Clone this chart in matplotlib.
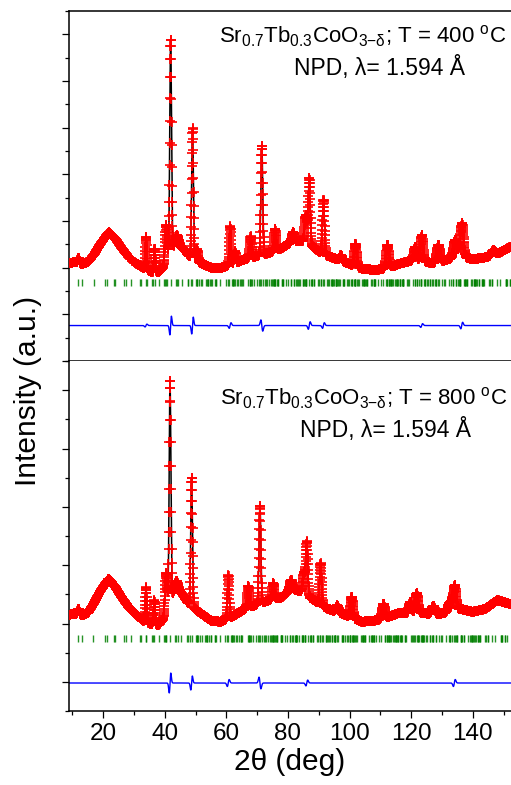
import numpy as np
import matplotlib
matplotlib.use("Agg")
import matplotlib.pyplot as plt
from matplotlib.ticker import MultipleLocator

plt.rcParams["font.family"] = ["Liberation Sans", "DejaVu Sans"]
plt.rcParams["mathtext.fontset"] = "custom"
plt.rcParams["mathtext.rm"] = "Liberation Sans"
plt.rcParams["mathtext.it"] = "Liberation Sans:italic"
plt.rcParams["mathtext.default"] = "regular"

WAVE = 1.594
TTH_MIN, TTH_MAX, STEP = 9.0, 152.4, 0.05

# background points (2theta, intensity), linear interpolation as in FullProf
BG_X = [8.9, 11, 13, 15, 17, 19, 21.8, 24, 26, 28, 30, 33, 36, 38, 40, 42, 44, 46, 48,
        51, 55, 58, 62, 66, 70, 74, 78, 81, 84, 87, 90, 93, 96, 100, 104, 108, 112,
        116, 120, 124, 128, 132, 136, 140, 144, 148, 152.4]
BG_400 = [2.10, 2.12, 2.08, 2.12, 2.28, 2.50, 2.76, 2.62, 2.42, 2.25, 2.12, 2.00, 1.90,
          1.90, 2.05, 2.35, 2.50, 2.40, 2.25, 2.12, 2.00, 1.99, 2.08, 2.18, 2.25, 2.32,
          2.42, 2.55, 2.58, 2.50, 2.35, 2.25, 2.18, 2.08, 1.98, 1.95, 1.98, 2.08, 2.15,
          2.12, 2.10, 2.18, 2.25, 2.18, 2.22, 2.30, 2.45]
BG_800 = [1.15, 1.17, 1.14, 1.18, 1.35, 1.55, 1.77, 1.62, 1.45, 1.30, 1.18, 1.05, 0.98,
          0.98, 1.10, 1.40, 1.60, 1.48, 1.32, 1.20, 1.05, 1.03, 1.12, 1.25, 1.33, 1.40,
          1.45, 1.60, 1.55, 1.45, 1.35, 1.25, 1.20, 1.12, 1.03, 1.05, 1.10, 1.18, 1.18,
          1.18, 1.15, 1.20, 1.25, 1.20, 1.25, 1.40, 1.33]

# Bragg peaks: position, height above background, gaussian width
PK_400_POS = [12.0, 33.9, 36.7, 40.4, 41.9, 43.9, 49.0, 50.5, 61.2, 62.8, 67.9, 71.5,
              75.8, 81.7, 85.8, 86.9, 91.5, 97.2, 101.9, 112.3, 121.3, 123.4, 128.8,
              134.3, 136.4, 146.7]
PK_400_H = [0.10, 0.69, 0.51, 0.80, 4.55, 0.20, 2.77, 0.25, 0.82, 0.25, 0.46, 2.33,
            0.46, 0.20, 0.60, 1.40, 1.15, 0.12, 0.47, 0.50, 0.30, 0.57, 0.38, 0.38,
            0.70, 0.10]
PK_400_W = [0.30, 0.25, 0.25, 0.35, 0.28, 0.60, 0.28, 0.30, 0.28, 0.30, 0.30, 0.30,
            0.32, 0.40, 0.40, 0.32, 0.33, 0.40, 0.40, 0.45, 0.45, 0.45, 0.50, 0.55,
            0.55, 0.60]

PK_800_POS = [12.0, 33.9, 36.6, 40.4, 41.7, 43.6, 48.7, 60.6, 67.1, 70.9, 75.2, 81.0,
              85.2, 86.1, 90.6, 96.0, 100.7, 111.0, 119.7, 121.8, 127.2, 132.5, 134.0]
PK_800_H = [0.10, 0.59, 0.42, 0.70, 3.80, 0.15, 2.20, 0.73, 0.37, 1.67, 0.28, 0.15,
            0.35, 0.90, 0.70, 0.11, 0.35, 0.25, 0.19, 0.34, 0.15, 0.15, 0.40]
PK_800_W = [0.30, 0.25, 0.25, 0.35, 0.28, 0.60, 0.28, 0.28, 0.30, 0.30, 0.32, 0.40,
            0.40, 0.32, 0.33, 0.40, 0.40, 0.45, 0.45, 0.45, 0.50, 0.55, 0.55]

# misfit features (obs - calc): position, amplitude, width
RES_400_POS = [33.9, 41.9, 49.0, 61.2, 71.5, 86.9, 91.5, 123.4, 136.4]
RES_400_AMP = [0.03, 0.20, 0.18, 0.06, -0.12, 0.08, 0.06, 0.04, 0.07]
RES_400_W = [0.3, 0.25, 0.25, 0.3, 0.3, 0.3, 0.3, 0.3, 0.3]
RES_800_POS = [41.7, 48.7, 60.6, 70.9, 86.1, 134.0]
RES_800_AMP = [0.17, 0.12, 0.06, -0.10, 0.05, 0.06]
RES_800_W = [0.25, 0.25, 0.3, 0.3, 0.3, 0.3]

# I4/mmm cell (a, c) in Angstrom for the reflection markers
CELL_400 = (7.69, 15.55)
CELL_800 = (7.72, 15.60)

TICK_Y = {"400": 1.69, "800": 0.75}
DIFF_Y = {"400": 0.76, "800": -0.02}
LABELS = {"400": "Sr$_{0.7}$Tb$_{0.3}$CoO$_{3\\mathrm{-}\\delta}$; T = 400 $^{\\mathrm{o}}$C",
          "800": "Sr$_{0.7}$Tb$_{0.3}$CoO$_{3\\mathrm{-}\\delta}$; T = 800 $^{\\mathrm{o}}$C"}


def gauss(x, p, h, w):
    return h * np.exp(-(x - p) ** 2 / (2 * w ** 2))


def profile(x, bg, pos, hh, ww):
    y = np.interp(x, BG_X, bg)
    for p, h, w in zip(pos, hh, ww):
        y = y + gauss(x, p, h, w)
    return y


def misfit(x, pos, amp, ww):
    r = np.zeros_like(x)
    for p, a, w in zip(pos, amp, ww):
        r += a * (x - p) / w * np.exp(0.5 - (x - p) ** 2 / (2 * w ** 2))
    return r


def bragg(cell):
    a, c = cell
    out = set()
    for h in range(0, 11):
        for k in range(0, h + 1):
            for l in range(0, 21):
                if (h + k + l) % 2 or (h + k + l) == 0:
                    continue
                inv_d2 = (h * h + k * k) / a ** 2 + l * l / c ** 2
                s = WAVE * np.sqrt(inv_d2) / 2
                if s >= 1:
                    continue
                tt = 2 * np.degrees(np.arcsin(s))
                if tt <= TTH_MAX:
                    out.add(round(tt, 2))
    return np.array(sorted(out))


x = np.arange(TTH_MIN, TTH_MAX, STEP)

fig = plt.figure(figsize=(5.11, 7.85), dpi=100)
L = 69 / 511
ax1 = fig.add_axes([L, 1 - 361 / 785, 1 - L, 350 / 785])
ax2 = fig.add_axes([L, 1 - 711 / 785, 1 - L, 350 / 785])

panels = [(ax1, "400", BG_400, PK_400_POS, PK_400_H, PK_400_W, RES_400_POS, RES_400_AMP,
           RES_400_W, CELL_400, 0.075),
          (ax2, "800", BG_800, PK_800_POS, PK_800_H, PK_800_W, RES_800_POS, RES_800_AMP,
           RES_800_W, CELL_800, 0.06)]

for ax, key, bg, pp, ph, pw, rp, ra, rw, cell, th in panels:
    calc = profile(x, bg, pp, ph, pw)
    res = misfit(x, rp, ra, rw)
    obs = calc + res
    ax.plot(x, calc, color="k", lw=1.1, zorder=2)
    ax.plot(x, obs, ls="none", marker="+", ms=7, mew=1.2, color="red", zorder=3)
    refl = bragg(cell)
    ax.vlines(refl, TICK_Y[key] - th, TICK_Y[key] + th, color="#008000", lw=1.0,
              alpha=0.85, zorder=2)
    ax.plot(x, DIFF_Y[key] + res, color="blue", lw=1.0, zorder=2)
    ax.set_xlim(8.9, 152.4)
    ax.yaxis.set_major_locator(MultipleLocator(1))
    ax.yaxis.set_minor_locator(MultipleLocator(0.5))
    ax.set_yticklabels([])
    ax.tick_params(axis="y", which="major", direction="out", length=5, width=0.9)
    ax.tick_params(axis="y", which="minor", direction="out", length=2.8, width=0.9)
    ax.spines["right"].set_visible(False)
    for s in ax.spines.values():
        s.set_linewidth(1.1)

ax1.set_ylim(0, 7.5)
ax2.set_ylim(-0.5, 5.5)
ax2.spines["top"].set_visible(False)

ax1.xaxis.set_major_locator(MultipleLocator(10))
ax1.tick_params(axis="x", direction="out", length=3, width=0.9, labelbottom=False)

ax2.xaxis.set_major_locator(MultipleLocator(20))
ax2.xaxis.set_minor_locator(MultipleLocator(10))
ax2.tick_params(axis="x", which="major", direction="out", length=5, width=0.9,
                labelsize=17.5, pad=3.5)
ax2.tick_params(axis="x", which="minor", direction="out", length=2.6, width=0.9)
ax2.set_xlabel("2\u03b8 (deg)", fontsize=21.5, labelpad=2)

fig.text(28 / 511, 1 - 391 / 785, "Intensity (a.u.)", rotation=90, fontsize=21.5,
         ha="center", va="center")

fig.text(506 / 511, 1 - 43 / 785, LABELS["400"], ha="right", va="baseline", fontsize=16)
fig.text(380 / 511, 1 - 75 / 785, "NPD, \u03bb= 1.594 \u00c5", ha="center", va="baseline",
         fontsize=16.5)
fig.text(507 / 511, 1 - 405 / 785, LABELS["800"], ha="right", va="baseline", fontsize=16)
fig.text(385 / 511, 1 - 437 / 785, "NPD, \u03bb= 1.594 \u00c5", ha="center", va="baseline",
         fontsize=16.5)

fig.savefig("out.png", dpi=100)
